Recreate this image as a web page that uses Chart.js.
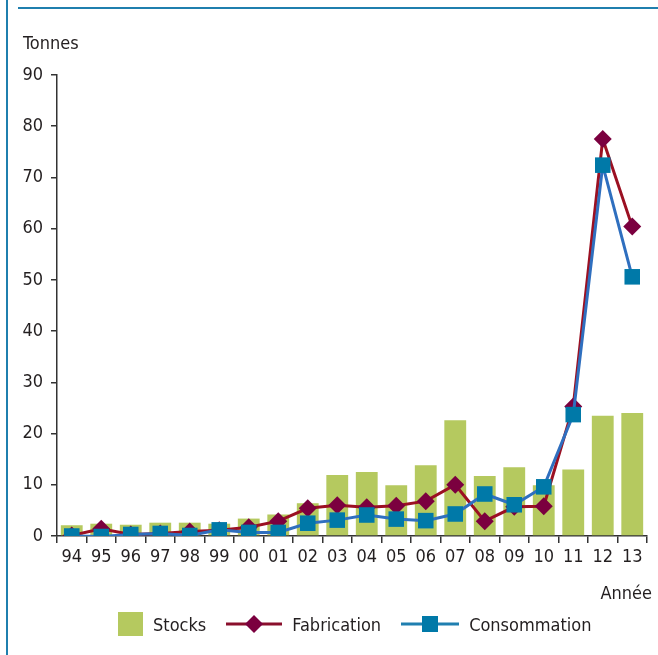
<!DOCTYPE html>
<html>
<head>
<meta charset="utf-8">
<script src="https://cdn.jsdelivr.net/npm/chart.js@4/dist/chart.umd.min.js"></script>
<style>
  body { margin: 0; background: #fff; }
  #wrap { position: relative; width: 658px; height: 655px; overflow: hidden;
    font-family: "Liberation Sans Narrow", "Arial Narrow", "DejaVu Sans Condensed", sans-serif; color: #231f20; }
  #frameLeft { position: absolute; left: 6px; top: 0; width: 1.5px; height: 655px; background: #1f7fae; }
  #frameTop { position: absolute; left: 18px; top: 7px; width: 640px; height: 2px; background: #1f7fae; }
  canvas { position: absolute; left: 0; top: 0; }
  .lbl { position: absolute; font-size: 18px; line-height: 20px; }
  #legend { position: absolute; top: 612px; left: 118px; display: flex; align-items: center; font-size: 18px; }
  #legend span { margin-right: 20px; }
  #legend svg { margin-right: 10px; }
</style>
</head>
<body>
<div id="wrap">
  <div id="frameLeft"></div>
  <div id="frameTop"></div>
  <canvas id="chart" width="658" height="655"></canvas>
  <div class="lbl" style="left:23px; top:33px;">Tonnes</div>
  <div class="lbl" style="right:6px; top:583px;">Année</div>
  <div id="legend">
    <svg width="25" height="24"><rect x="0" y="0" width="25" height="24" fill="#b5c95f"/></svg><span>Stocks</span>
    <svg width="56" height="20"><line x1="0" y1="10" x2="56" y2="10" stroke="#8a0f2c" stroke-width="3"/><polygon points="28,1 37,10 28,19 19,10" fill="#7b003f"/></svg><span>Fabrication</span>
    <svg width="58" height="20"><line x1="0" y1="10" x2="58" y2="10" stroke="#1f7fb0" stroke-width="3"/><rect x="21" y="2" width="16" height="16" fill="#0079a8"/></svg><span>Consommation</span>
  </div>
</div>
<script>
const years = ['94','95','96','97','98','99','00','01','02','03','04','05','06','07','08','09','10','11','12','13'];
const stocks = [2.1, 2.4, 2.2, 2.6, 2.6, 2.4, 3.4, 4.2, 6.4, 11.9, 12.5, 9.9, 13.8, 22.6, 11.7, 13.4, 9.9, 13.0, 23.5, 24.0];
const fabrication = [0.1, 1.4, 0.3, 0.5, 0.9, 1.1, 1.7, 2.9, 5.4, 6.0, 5.6, 5.9, 6.8, 10.0, 2.9, 5.7, 5.8, 25.3, 77.5, 60.4];
const consommation = [0.0, -0.1, 0.3, 0.5, 0.1, 1.2, 0.7, 0.7, 2.5, 3.1, 4.1, 3.3, 3.0, 4.3, 8.2, 6.1, 9.6, 23.7, 72.4, 50.6];
const yTicks = [0, 10, 20, 30, 40, 50, 60, 70, 80, 90];

const fontFam = '"Liberation Sans Narrow", "Arial Narrow", "DejaVu Sans Condensed", sans-serif';
const ink = '#231f20';

const config = {
  type: 'bar',
  data: {
    labels: years,
    datasets: [
      {
        type: 'line',
        label: 'Consommation',
        data: consommation,
        order: 1,
        borderColor: '#2f6fbf',
        borderWidth: 3,
        pointStyle: 'rect',
        pointRadius: 11,
        pointBackgroundColor: '#0079a8',
        pointBorderWidth: 0,
        tension: 0
      },
      {
        type: 'line',
        label: 'Fabrication',
        data: fabrication,
        order: 2,
        borderColor: '#9b1022',
        borderWidth: 3,
        pointStyle: 'rectRot',
        pointRadius: 9,
        pointBackgroundColor: '#7b003f',
        pointBorderWidth: 0,
        tension: 0
      },
      {
        label: 'Stocks',
        data: stocks,
        order: 3,
        backgroundColor: '#b5c95f',
        barPercentage: 0.74,
        categoryPercentage: 1
      }
    ]
  },
  options: {
    responsive: false,
    animation: false,
    layout: { padding: { left: 0, right: 7, top: 75, bottom: 83 } },
    plugins: { legend: { display: false }, tooltip: { enabled: false } },
    scales: {
      x: {
        offset: true,
        grid: { offset: true, drawOnChartArea: false, drawTicks: true, tickLength: 7, color: '#333', lineWidth: 1.5 },
        border: { display: true, color: '#333', width: 1.5 },
        ticks: { color: ink, font: { family: fontFam, size: 18 }, padding: 4, maxRotation: 0, autoSkip: false },
        afterFit: s => { s.height = 36; }
      },
      y: {
        min: 0,
        max: 90,
        afterBuildTicks: s => { s.ticks = yTicks.map(v => ({ value: v })); },
        grid: { drawOnChartArea: false, drawTicks: true, tickLength: 6, color: '#333', lineWidth: 1.5 },
        border: { display: true, color: '#333', width: 1.5 },
        ticks: { color: ink, font: { family: fontFam, size: 18 }, padding: 8 },
        afterFit: s => { s.width = 57; }
      }
    }
  }
};

new Chart(document.getElementById('chart'), config);
</script>
</body>
</html>
